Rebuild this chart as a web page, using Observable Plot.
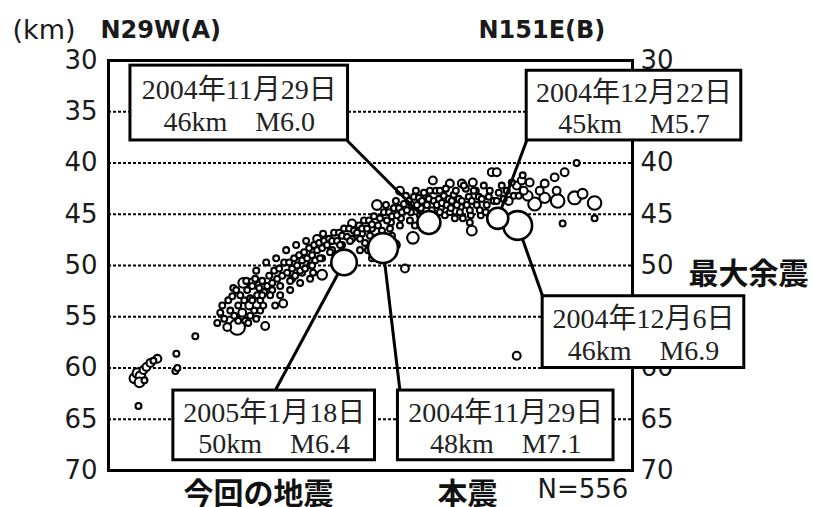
<!DOCTYPE html>
<html>
<head>
<meta charset="utf-8">
<script src="https://cdn.jsdelivr.net/npm/d3@7"></script>
<script src="https://cdn.jsdelivr.net/npm/@observablehq/plot@0.6"></script>
<style>
  html, body { margin: 0; padding: 0; background: #fff; }
</style>
</head>
<body>
<div id="chart"></div>
<script>
// ---- data ----
const depthTicks = [30, 35, 40, 45, 50, 55, 60, 65, 70];
const gridDepths = [35, 40, 45, 50, 55, 60, 65];

// aftershocks / small events: [distance along profile, depth (km), magnitude]
const quakes = [
  [5.2,61.0,3.9],[5.8,60.5,3.9],[6.4,60.8,3.9],[7.0,60.2,3.6],[7.6,59.9,3.6],[8.4,59.5,3.6],[9.0,59.3,3.3],
  [9.8,59.1,3.6],[6.2,61.4,3.9],[7.2,61.2,3.3],[13.4,60.3,3.3],[13.8,60.0,3.3],[13.6,58.6,3.3],[6.0,63.7,3.3],
  [17.4,56.9,3.3],
  [21.8,55.6,3.3],[22.4,54.6,3.3],[22.8,53.9,3.3],[23.2,55.2,3.3],
  [23.8,56.0,3.6],[24.0,53.4,3.3],[24.4,54.4,3.3],[24.8,53.0,3.3],[25.2,54.9,3.3],[25.0,52.2,3.3],
  [25.8,56.0,4.8],[26.0,53.9,3.3],[26.4,52.9,3.3],[26.8,54.6,3.6],[27.2,53.4,3.3],[27.0,51.7,3.9],[27.4,55.4,3.3],
  [27.8,52.4,3.3],[28.2,53.9,3.6],[28.4,53.2,3.3],[28.8,52.0,3.3],[29.2,54.4,3.3],[29.4,51.3,3.3],
  [29.0,51.7,3.9],[30.4,52.0,3.9],[25.6,52.4,3.3],[27.6,51.5,3.3],[29.6,50.5,3.3],[31.6,49.7,3.3],
  [26.0,55.4,3.3],[28.0,55.6,3.3],[29.6,55.2,3.3],[28.4,54.9,3.3],[30.4,54.4,3.3],[28.8,53.4,3.3],
  [29.8,52.9,3.3],[30.2,52.2,3.3],[30.4,53.4,3.3],[30.8,51.5,3.3],[31.2,52.6,3.3],[31.4,55.9,3.6],[31.0,53.9,3.3],
  [30.8,52.9,3.3],[32.8,52.4,3.3],[33.6,49.3,3.3],
  [31.8,52.0,3.3],[32.2,51.0,3.3],[32.4,52.9,3.3],[32.8,51.7,3.3],[33.2,50.5,3.3],[33.4,53.9,3.3],
  [33.8,51.3,3.3],[34.2,50.3,3.3],[34.4,52.0,3.3],[34.8,51.0,3.3],[35.0,53.7,3.6],[35.2,49.7,3.3],
  [34.4,52.9,3.3],[35.6,48.5,3.3],[36.4,52.4,3.3],[36.8,51.3,3.3],
  [35.8,50.7,3.3],[36.2,49.7,3.3],[36.4,51.5,3.3],[36.8,50.3,3.3],[37.2,49.3,3.3],[37.4,51.0,3.3],
  [37.6,48.0,3.3],[38.4,51.7,3.3],[38.8,50.7,3.3],[39.6,47.6,3.3],[40.4,51.3,3.3],
  [37.8,50.0,3.3],[38.2,49.0,3.3],[38.4,50.5,3.3],[38.8,49.5,3.3],[39.2,48.7,3.3],[39.4,50.3,3.3],
  [39.8,49.3,3.3],[40.2,48.3,3.3],[40.4,50.0,3.3],[40.8,49.0,3.3],[41.2,48.0,3.3],[41.4,49.5,3.3],[41.0,50.7,3.3],
  [40.8,50.0,3.3],[42.8,49.3,3.3],[44.8,48.5,3.3],[46.8,48.0,3.3],[48.8,47.4,3.3],[50.8,46.9,3.3],[52.8,46.4,3.3],
  [41.8,48.5,3.3],[42.2,47.8,3.3],[42.4,49.3,3.3],[42.8,48.3,3.3],[43.2,47.6,3.3],[43.0,46.9,3.3],[42.8,50.9,3.9],[41.8,47.4,3.6],
  [43.8,48.0,3.3],[44.2,47.4,3.3],[44.4,48.7,3.3],[44.8,47.6,3.3],[45.2,46.8,3.3],
  [45.8,47.6,3.3],[46.2,46.8,3.3],[46.4,48.0,3.3],[46.8,47.1,3.3],[47.2,46.4,3.3],
  [47.8,47.2,3.3],[48.2,46.4,3.3],[48.4,47.6,3.3],[48.8,45.9,3.6],[49.2,46.6,3.3],
  [49.8,46.8,3.3],[50.2,46.1,3.3],[50.4,47.4,3.3],[50.8,46.4,3.3],[51.2,45.6,3.3],[51.4,47.8,3.3],
  [51.8,46.4,3.3],[52.2,45.6,3.3],[52.4,47.1,3.3],[52.8,46.0,3.3],[53.2,45.2,3.3],[53.4,47.6,3.3],
  [50.4,48.5,3.3],[52.0,48.5,3.3],[52.8,49.3,3.3],
  [53.8,44.1,3.9],[54.0,46.1,3.3],[54.4,45.4,3.3],[54.8,46.6,3.3],[55.2,44.8,3.3],[55.4,47.6,3.3],
  [55.6,44.1,3.3],[56.6,45.8,3.3],[57.6,43.7,3.3],[58.6,45.4,3.3],[59.6,43.2,3.3],[60.6,44.8,3.3],
  [55.8,45.6,3.3],[56.2,44.8,3.3],[56.4,46.4,3.3],[56.8,45.2,3.3],[57.2,44.4,3.3],[56.8,47.1,3.3],[57.4,48.0,3.9],
  [57.8,45.1,3.3],[58.2,44.4,3.3],[58.4,46.1,3.3],[58.8,44.8,3.3],[59.2,44.0,3.3],[58.4,42.7,3.6],
  [59.8,44.6,3.3],[60.2,43.7,3.3],[60.4,45.6,3.3],[60.8,44.1,3.3],[61.2,43.3,3.3],[61.0,47.3,4.2],[61.4,46.1,3.3],
  [61.6,42.7,3.3],[62.6,44.4,3.3],[63.6,43.2,3.3],[65.6,42.7,3.3],[66.6,44.4,3.3],[67.6,42.5,3.3],
  [61.8,44.1,3.3],[62.2,43.4,3.3],[62.4,45.1,3.3],[62.8,43.7,3.3],[63.2,42.9,3.3],[63.4,45.4,3.3],
  [59.4,50.3,3.6],
  [63.8,44.1,3.3],[64.2,43.5,3.3],[64.8,44.6,3.3],[65.2,43.7,3.3],[64.4,42.7,3.3],[65.0,41.7,3.6],[65.4,45.1,3.3],
  [65.8,44.1,3.3],[66.2,43.5,3.3],[66.4,44.8,3.3],[66.8,43.9,3.3],[67.2,43.2,3.3],[66.4,42.7,3.3],[67.4,45.1,3.3],
  [67.8,44.1,3.3],[68.2,43.5,3.3],[68.4,44.8,3.3],[68.8,43.7,3.3],[69.2,43.1,3.3],[68.4,42.0,3.6],[69.4,45.4,3.3],
  [68.6,44.4,3.3],[69.6,42.7,3.3],[70.6,44.3,3.3],[71.6,42.5,3.3],[72.6,45.1,3.3],[73.6,42.7,3.3],
  [74.6,45.1,3.3],[75.6,44.8,3.3],
  [69.8,44.1,3.3],[70.2,43.5,3.3],[70.4,44.8,3.3],[70.8,43.7,3.3],[71.2,42.2,3.3],[71.0,45.4,3.3],[70.8,42.0,3.6],
  [71.8,44.1,3.3],[72.2,43.3,3.3],[72.4,44.6,3.3],[72.8,43.7,3.3],[73.2,42.7,3.3],[72.4,45.8,3.3],[73.0,41.9,3.6],[72.8,46.6,3.9],
  [73.8,44.1,3.3],[74.2,43.3,3.3],[74.4,44.6,3.3],[74.8,43.5,3.3],[75.2,42.2,3.3],
  [75.8,44.1,3.3],[76.2,43.3,3.3],[76.4,42.7,3.3],[76.8,40.9,3.6],[77.8,40.9,3.6],[77.2,43.7,3.3],
  [77.8,43.7,3.3],[78.2,42.9,3.3],[78.8,42.2,3.3],[79.2,43.5,3.3],
  [79.8,42.7,3.3],[80.2,43.7,3.6],[80.8,41.9,3.3],[81.2,43.2,3.3],
  [81.8,42.2,3.6],[82.2,43.2,3.3],[82.8,41.7,3.6],[83.2,42.7,3.6],[83.0,41.2,3.3],
  [85.4,44.0,4.4],[87.4,43.4,4.0],[90.0,43.7,4.5],[93.4,43.4,4.4],[97.4,43.9,4.5],[95.0,43.0,3.9],
  [93.8,40.0,3.3],[91.4,40.9,3.6],[89.4,41.4,3.6],[87.4,42.0,3.6],[84.4,41.9,3.6],[91.0,45.9,3.3],
  [97.4,45.4,3.3],[89.8,42.7,3.6],[86.4,42.7,3.6],[84.0,43.2,3.9],[81.8,58.8,3.6]
];

// largest events
const eventDates = ["2004年11月29日", "2004年12月22日", "2004年12月6日", "2005年1月18日", "2004年11月29日"];
const eventKm = [46, 45, 46, 50, 48];
const eventMag = [6.0, 5.7, 6.9, 6.4, 7.1];
const eventDistance = [64.2, 78.0, 82.0, 47.2, 55.0];
const eventDepth = [45.8, 45.4, 46.1, 49.7, 48.3];

// ---- layout of the callout boxes (data coordinates) ----
const boxX1 = [4.4, 83.8, 87.0, 13.0, 58.0];
const boxX2 = [48.0, 126.8, 127.4, 53.4, 101.2];
const boxY1 = [30.5, 31.0, 53.0, 62.2, 62.2];
const boxY2 = [37.8, 37.8, 60.0, 69.0, 69.0];
const leadX = [47.8, 83.8, 87.0, 33.4, 58.4];
const leadY = [37.8, 37.8, 53.0, 62.2, 62.2];

const quakeRows = quakes.map(([x, d, m]) => ({x, d, m}));
const events = eventDates.map((date, i) => ({
  date, km: eventKm[i], m: eventMag[i], x: eventDistance[i], d: eventDepth[i],
  bx1: boxX1[i], bx2: boxX2[i], by1: boxY1[i], by2: boxY2[i], lx: leadX[i], ly: leadY[i],
  label: `${date}\n${eventKm[i]}km\u3000M${eventMag[i].toFixed(1)}`
}));

const serif = "'Liberation Serif', 'Noto Sans CJK JP', serif";
const sans = "'DejaVu Sans', sans-serif";
const cjk = "'Noto Sans CJK JP', sans-serif";

const chart = Plot.plot({
  width: 813,
  height: 507,
  marginLeft: 108,
  marginRight: 181,
  marginTop: 60,
  marginBottom: 37,
  style: {fontFamily: sans, fontSize: "26px", color: "#1a1a1a", background: "#fff"},
  x: {domain: [0, 105], axis: null},
  y: {domain: [30, 70], reverse: true, axis: null},
  r: {type: "linear", domain: [3, 7.1], range: [2, 15]},
  marks: [
    Plot.ruleY(gridDepths, {stroke: "#000", strokeWidth: 2.2, strokeDasharray: "3,2"}),
    Plot.axisY({anchor: "left", ticks: depthTicks, tickSize: 0, tickPadding: 11, fontSize: 26, fontFamily: sans, label: null}),
    Plot.axisY({anchor: "right", ticks: depthTicks, tickSize: 0, tickPadding: 8, fontSize: 26, fontFamily: sans, label: null}),
    Plot.dot(quakeRows, {x: "x", y: "d", r: "m", fill: "white", stroke: "black", strokeWidth: 2.1}),
    Plot.link(events, {x1: "x", y1: "d", x2: "lx", y2: "ly", stroke: "black", strokeWidth: 3}),
    Plot.dot(events, {x: "x", y: "d", r: "m", fill: "white", stroke: "black", strokeWidth: 2.6}),
    Plot.frame({stroke: "black", strokeWidth: 3}),
    Plot.rect(events, {x1: "bx1", x2: "bx2", y1: "by1", y2: "by2", fill: "white", stroke: "black", strokeWidth: 3}),
    Plot.text(events, {x: d => (d.bx1 + d.bx2) / 2, y: d => (d.by1 + d.by2) / 2, text: "label",
      fontFamily: serif, fontSize: 28, lineHeight: 1.12, fill: "#222", dy: 2}),
    // header & footer texts
    Plot.text(["(km)"], {frameAnchor: "top-left", dx: -96, dy: -30, textAnchor: "start", lineAnchor: "middle", fontSize: 27, fontFamily: sans}),
    Plot.text(["N29W(A)"], {frameAnchor: "top-left", dx: -8, dy: -30, textAnchor: "start", lineAnchor: "middle", fontSize: 24, fontWeight: "bold", fontFamily: sans}),
    Plot.text(["N151E(B)"], {frameAnchor: "top-left", dx: 370, dy: -30, textAnchor: "start", lineAnchor: "middle", fontSize: 24, fontWeight: "bold", fontFamily: sans}),
    Plot.text(["最大余震"], {frameAnchor: "right", dx: 56, dy: 9, textAnchor: "start", lineAnchor: "middle", fontSize: 30, fontWeight: "bold", fontFamily: cjk, fill: "#111"}),
    Plot.text(["今回の地震"], {frameAnchor: "bottom-left", dx: 75, dy: 24, textAnchor: "start", lineAnchor: "middle", fontSize: 30, fontWeight: "bold", fontFamily: cjk, fill: "#111"}),
    Plot.text(["本震"], {frameAnchor: "bottom-left", dx: 329, dy: 24, textAnchor: "start", lineAnchor: "middle", fontSize: 30, fontWeight: "bold", fontFamily: cjk, fill: "#111"}),
    Plot.text(["N=556"], {frameAnchor: "bottom-left", dx: 429, dy: 19, textAnchor: "start", lineAnchor: "middle", fontSize: 26, fontFamily: sans})
  ]
});
document.getElementById("chart").appendChild(chart);
</script>
</body>
</html>
